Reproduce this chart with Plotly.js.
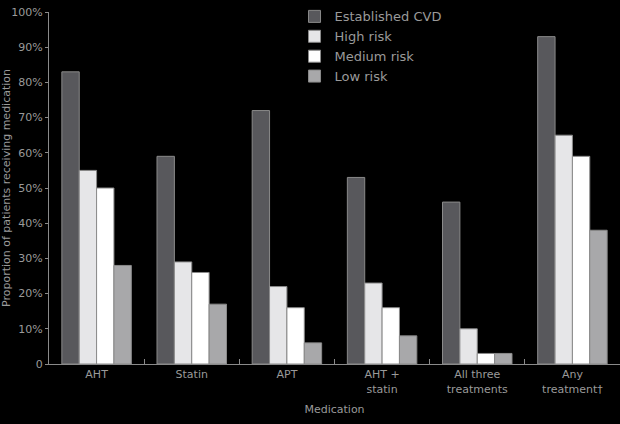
<!DOCTYPE html>
<html>
<head>
<script src="https://cdn.plot.ly/plotly-3.0.1.min.js"></script>
<style>body{margin:0;background:#000;}</style>
</head>
<body>
<div id="plot" style="width:620px;height:424px;"></div>
<script>
const categories = ['AHT', 'Statin', 'APT', 'AHT +<br>statin', 'All three<br>treatments', 'Any<br>treatment†'];
const seriesNames = ['Established CVD', 'High risk', 'Medium risk', 'Low risk'];
const established = [83, 59, 72, 53, 46, 93];
const highRisk = [55, 29, 22, 23, 10, 65];
const mediumRisk = [50, 26, 16, 16, 3, 59];
const lowRisk = [28, 17, 6, 8, 3, 38];
const colors = ['#58585c', '#e6e6e8', '#ffffff', '#a8a8aa'];

const values = [established, highRisk, mediumRisk, lowRisk];
const traces = values.map((v, i) => ({
  type: 'bar',
  name: seriesNames[i],
  x: categories,
  y: v,
  marker: { color: colors[i], line: { color: '#8a8a8a', width: 1 } },
  hoverinfo: 'none'
}));

const layout = {
  paper_bgcolor: '#000',
  plot_bgcolor: '#000',
  font: { family: 'DejaVu Sans', size: 11, color: '#9a9a9a' },
  margin: { l: 49, r: 0, t: 12, b: 60 },
  barmode: 'group',
  bargap: 0.27,
  bargroupgap: 0,
  xaxis: {
    showline: true, linecolor: '#8a8a8a', linewidth: 1,
    ticks: 'inside', tickson: 'boundaries', ticklen: 5, tickcolor: '#8a8a8a',
    tickangle: 0,
    title: { text: 'Medication', standoff: 10, font: { size: 11, color: '#9a9a9a' } }
  },
  yaxis: {
    range: [0, 100],
    tickvals: [0, 10, 20, 30, 40, 50, 60, 70, 80, 90, 100],
    ticktext: ['0', '10%', '20%', '30%', '40%', '50%', '60%', '70%', '80%', '90%', '100%'],
    showgrid: false, zeroline: false,
    showline: true, linecolor: '#8a8a8a', linewidth: 1,
    ticks: 'outside', ticklen: 3, tickcolor: '#8a8a8a',
    title: { text: 'Proportion of patients receiving medication', standoff: 4, font: { size: 11, color: '#9a9a9a' } }
  },
  showlegend: true,
  legend: {
    x: 0.43, y: 1.03, xanchor: 'left', yanchor: 'top',
    bgcolor: 'rgba(0,0,0,0)', font: { size: 13, color: '#9a9a9a' },
    tracegroupgap: 0, itemwidth: 30
  }
};

Plotly.newPlot('plot', traces, layout, { displayModeBar: false });
</script>
</body>
</html>
